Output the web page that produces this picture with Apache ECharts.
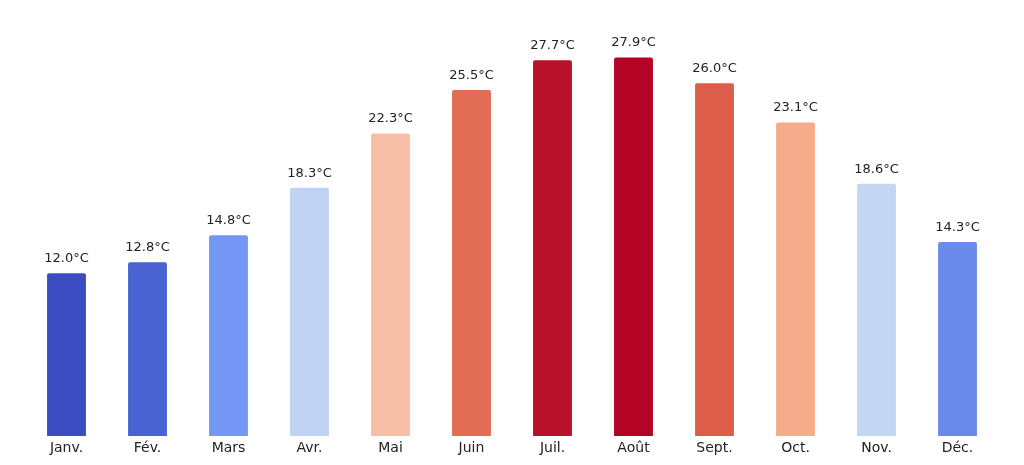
<!DOCTYPE html>
<html><head><meta charset="utf-8">
<script src="https://cdn.jsdelivr.net/npm/echarts@6/dist/echarts.min.js"></script>
<style>html,body{margin:0;padding:0;background:#fff}#c{width:1024px;height:465px}</style>
</head><body><div id="c"></div>
<script>
var months = ['Janv.', 'Fév.', 'Mars', 'Avr.', 'Mai', 'Juin', 'Juil.', 'Août', 'Sept.', 'Oct.', 'Nov.', 'Déc.'];
var temps = [12.0, 12.8, 14.8, 18.3, 22.3, 25.5, 27.7, 27.9, 26.0, 23.1, 18.6, 14.3];
var colors = ['#3a4cc0', '#4a63d3', '#7497f5', '#c0d3f5', '#f6bfa6', '#e36c55', '#b8122a', '#b40426', '#dc5d4a', '#f5ac8b', '#c5d6f2', '#6a8be9'];

var chart = echarts.init(document.getElementById('c'));
chart.setOption({
  animation: false,
  grid: {left: 26, right: 26, top: 29, bottom: 29},
  xAxis: {
    type: 'category', data: months,
    axisLine: {show: false}, axisTick: {show: false},
    axisLabel: {color: '#222', fontSize: 14, fontFamily: 'DejaVu Sans', margin: 5}
  },
  yAxis: {type: 'value', min: 0, max: 30, show: false, splitLine: {show: false}},
  series: [{
    type: 'bar', barWidth: '48%',
    data: temps.map(function (v, i) { return {value: v, itemStyle: {color: colors[i], borderRadius: [2, 2, 0, 0]}}; }),
    label: {
      show: true, position: 'top', distance: 8, color: '#222', fontSize: 13, fontFamily: 'DejaVu Sans',
      formatter: function (p) { return p.value.toFixed(1) + '°C'; }
    }
  }]
});
</script></body></html>
